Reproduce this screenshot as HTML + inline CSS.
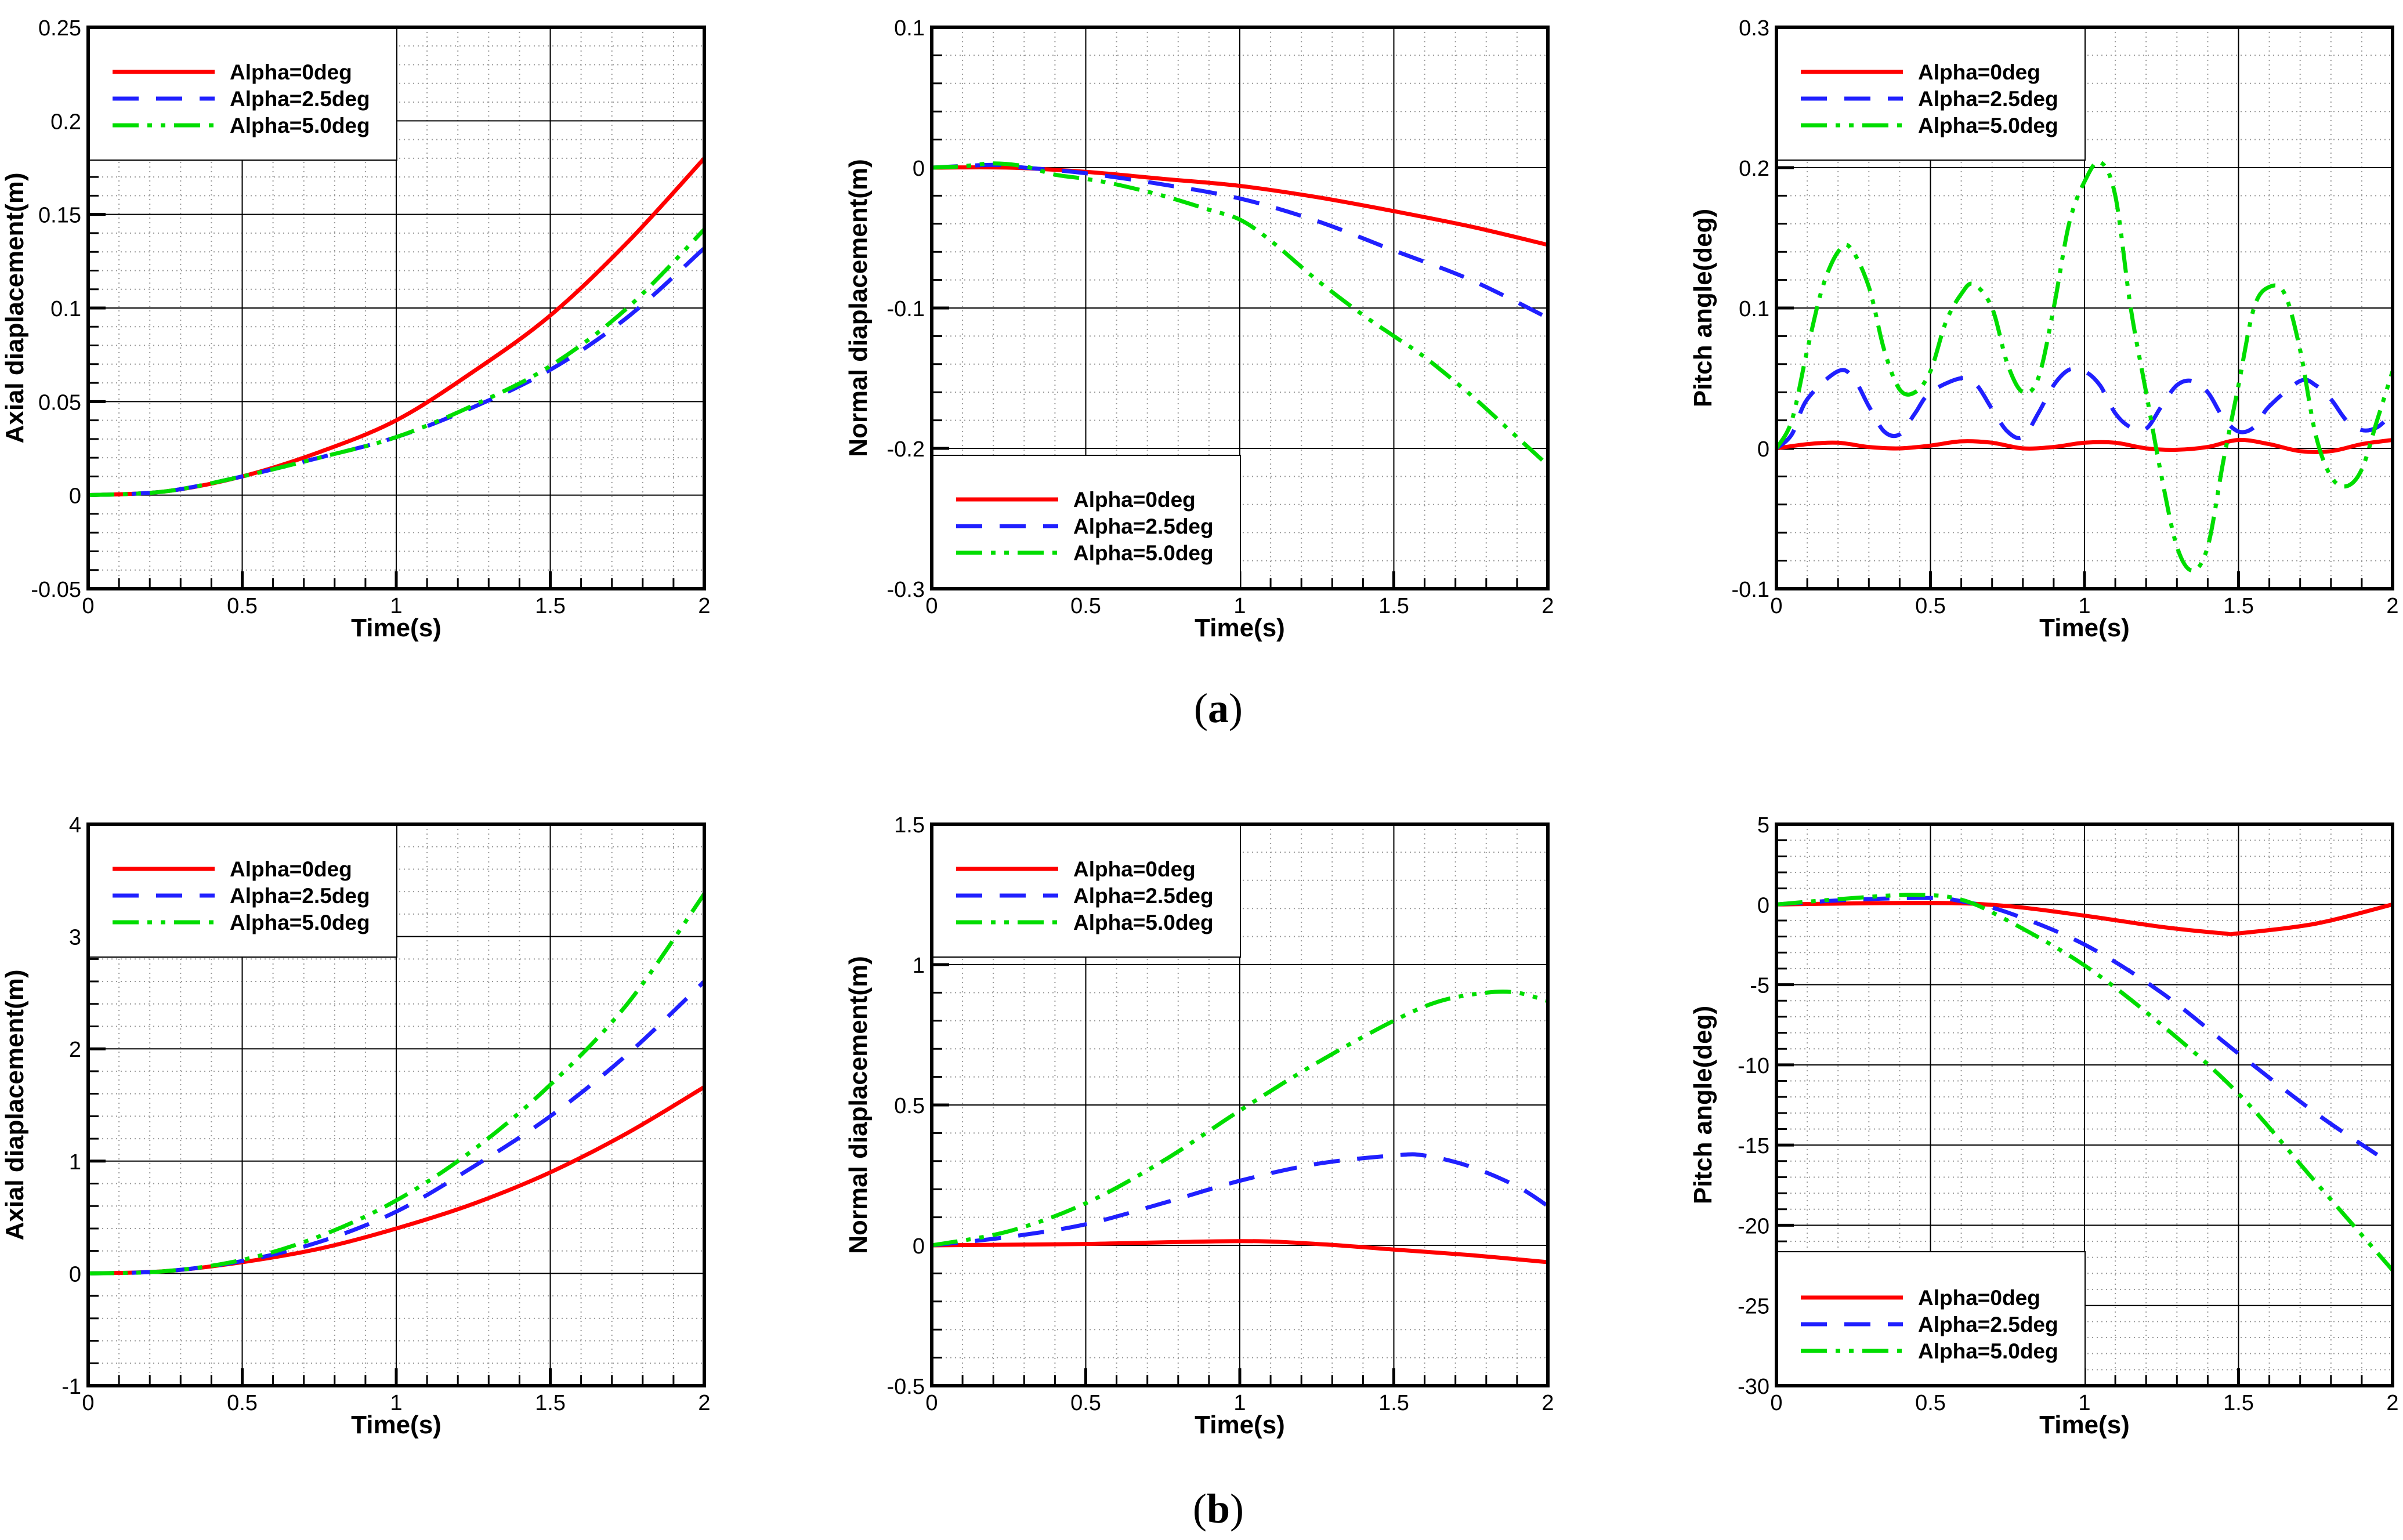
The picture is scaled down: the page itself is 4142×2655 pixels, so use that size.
<!DOCTYPE html>
<html><head><meta charset="utf-8"><style>
html,body{margin:0;padding:0;background:#fff;}
svg{display:block;}
</style></head><body>
<svg id="fig" width="4142" height="2655" viewBox="0 0 4142 2655" xmlns="http://www.w3.org/2000/svg" font-family="Liberation Sans, Arial, sans-serif">
<rect x="0" y="0" width="4142" height="2655" fill="#fff"/>
<text x="2100" y="1245" font-family="Liberation Serif, serif" font-size="72" text-anchor="middle">(<tspan font-weight="bold">a</tspan>)</text>
<text x="2100" y="2625" font-family="Liberation Serif, serif" font-size="72" text-anchor="middle">(<tspan font-weight="bold">b</tspan>)</text>
</svg>
<script>
// ---- data ----
const c1T=[0,0.25,0.5,0.75,1,1.25,1.5,1.75,2];
const c1Red=[0,0.002,0.01,0.023,0.04,0.066,0.096,0.135,0.18];
const c1Blue=[0,0.002,0.01,0.02,0.031,0.047,0.067,0.095,0.132];
const c1Green=[0,0.002,0.01,0.02,0.031,0.048,0.069,0.1,0.142];

const c2TRed=[0,0.25,0.5,0.75,1,1.25,1.5,1.75,2];
const c2Red=[0,0,-0.003,-0.008,-0.013,-0.021,-0.031,-0.042,-0.055];
const c2TBlue=[0,0.2,0.3,0.5,0.75,1,1.25,1.5,1.75,2];
const c2Blue=[0,0.002,0,-0.004,-0.012,-0.022,-0.038,-0.059,-0.08,-0.107];
const c2TGreen=[0,0.1,0.2,0.3,0.4,0.5,0.6,0.75,0.9,1,1.1,1.25,1.4,1.5,1.6,1.75,1.9,2];
const c2Green=[0,0.001,0.003,0.001,-0.005,-0.008,-0.012,-0.02,-0.03,-0.037,-0.052,-0.08,-0.105,-0.12,-0.135,-0.162,-0.192,-0.212];

const c3TRed=[0,0.1,0.2,0.3,0.4,0.5,0.6,0.7,0.8,0.9,1,1.1,1.2,1.3,1.4,1.5,1.6,1.7,1.8,1.9,2];
const c3Red=[0,0.003,0.004,0.001,0,0.002,0.005,0.004,0,0.001,0.004,0.004,0,-0.001,0.001,0.006,0.003,-0.002,-0.002,0.003,0.006];
const c3TBlue=[0,0.05,0.1,0.2,0.25,0.3,0.35,0.4,0.45,0.5,0.6,0.65,0.7,0.75,0.8,0.85,0.9,0.95,1,1.05,1.1,1.15,1.2,1.25,1.3,1.35,1.4,1.45,1.5,1.55,1.6,1.7,1.75,1.8,1.85,1.9,1.95,2];
const c3Blue=[0,0.01,0.035,0.055,0.05,0.03,0.012,0.01,0.025,0.04,0.05,0.045,0.028,0.012,0.008,0.025,0.045,0.056,0.055,0.045,0.025,0.015,0.014,0.03,0.045,0.048,0.04,0.022,0.012,0.015,0.03,0.048,0.045,0.035,0.02,0.013,0.015,0.025];
const c3TGreen=[0,0.05,0.1,0.15,0.2,0.24,0.3,0.35,0.4,0.45,0.5,0.55,0.6,0.64,0.7,0.75,0.8,0.85,0.9,0.95,1,1.05,1.1,1.15,1.2,1.25,1.3,1.35,1.4,1.45,1.5,1.55,1.6,1.65,1.7,1.75,1.8,1.85,1.9,1.95,2];
const c3Green=[0,0.02,0.07,0.115,0.14,0.143,0.115,0.07,0.042,0.04,0.055,0.09,0.11,0.117,0.1,0.06,0.04,0.05,0.1,0.16,0.19,0.204,0.18,0.1,0.04,-0.02,-0.07,-0.087,-0.07,-0.01,0.045,0.1,0.115,0.11,0.07,0.01,-0.02,-0.027,-0.015,0.02,0.055];

const c4T=[0,0.25,0.5,0.75,1,1.25,1.5,1.75,2];
const c4Red=[0,0.02,0.1,0.22,0.4,0.62,0.9,1.25,1.66];
const c4Blue=[0,0.02,0.11,0.28,0.55,0.95,1.4,1.95,2.6];
const c4Green=[0,0.02,0.12,0.33,0.65,1.1,1.68,2.4,3.38];

const c5TRed=[0,0.5,1,1.25,1.5,1.75,2];
const c5Red=[0,0.005,0.015,0.005,-0.015,-0.035,-0.06];
const c5TBlue=[0,0.25,0.5,0.75,1,1.25,1.5,1.6,1.75,1.9,2];
const c5Blue=[0,0.03,0.075,0.15,0.23,0.29,0.32,0.32,0.28,0.21,0.14];
const c5TGreen=[0,0.25,0.5,0.75,1,1.25,1.5,1.65,1.8,1.9,2];
const c5Green=[0,0.05,0.15,0.3,0.48,0.65,0.8,0.87,0.9,0.9,0.87];

const c6TRed=[0,0.5,0.75,1,1.25,1.45,1.5,1.75,2];
const c6Red=[0,0.1,-0.1,-0.7,-1.4,-1.8,-1.8,-1.2,0];
const c6TBlue=[0,0.25,0.5,0.6,0.75,1,1.25,1.5,1.75,1.95];
const c6Blue=[0,0.3,0.4,0.2,-0.5,-2.5,-5.5,-9.3,-13,-15.6];
const c6TGreen=[0,0.25,0.45,0.6,0.75,1,1.25,1.5,1.75,2];
const c6Green=[0,0.4,0.6,0.3,-1,-3.8,-7.5,-11.8,-17.3,-22.8];

const xTicks=["0","0.5","1","1.5","2"];
const legendLabels=["Alpha=0deg","Alpha=2.5deg","Alpha=5.0deg"];

const NS="http://www.w3.org/2000/svg";
const svg=document.getElementById('fig');
function mk(tag,attrs,parent){const e=document.createElementNS(NS,tag);for(const k in attrs)e.setAttribute(k,attrs[k]);(parent||svg).appendChild(e);return e;}

function smoothPath(P){
  let d="M"+P[0][0].toFixed(1)+","+P[0][1].toFixed(1);
  for(let i=0;i<P.length-1;i++){
    const p0=P[i-1]||P[i],p1=P[i],p2=P[i+1],p3=P[i+2]||P[i+1];
    const c1x=p1[0]+(p2[0]-p0[0])/6,c1y=p1[1]+(p2[1]-p0[1])/6;
    const c2x=p2[0]-(p3[0]-p1[0])/6,c2y=p2[1]-(p3[1]-p1[1])/6;
    d+=` C${c1x.toFixed(1)},${c1y.toFixed(1)} ${c2x.toFixed(1)},${c2y.toFixed(1)} ${p2[0].toFixed(1)},${p2[1].toFixed(1)}`;
  }
  return d;
}

const W=1062,H=968;
const styles=[{c:"#ff0000",d:""},{c:"#2020ff",d:"45 30"},{c:"#00dd00",d:"45 15 8 15 8 15"}];

function chart(id,L,T,ymin,ymax,ymaj,ymin_step,yLabels,title,series,leg){
  const g=mk('g',{});
  
  
  const xs=v=>L+v/2*W, ys=v=>T+H-(v-ymin)/(ymax-ymin)*H;
  for(let i=1;i<20;i++){if(i%5===0)continue;const x=xs(i*0.1);mk('line',{x1:x,y1:T,x2:x,y2:T+H,stroke:"#999","stroke-width":2,"stroke-dasharray":"2 6"},g);}
  const nm=Math.round((ymax-ymin)/ymin_step);
  for(let i=1;i<nm;i++){const v=ymin+i*ymin_step;if(Math.abs(Math.round((v-ymin)/ymaj)*ymaj-(v-ymin))<1e-9)continue;const y=ys(v);mk('line',{x1:L,y1:y,x2:L+W,y2:y,stroke:"#999","stroke-width":2,"stroke-dasharray":"2 6"},g);}
  for(let i=1;i<4;i++){const x=xs(i*0.5);mk('line',{x1:x,y1:T,x2:x,y2:T+H,stroke:"#000","stroke-width":2},g);}
  for(let i=1;i<yLabels.length-1;i++){const y=ys(+yLabels[i]);mk('line',{x1:L,y1:y,x2:L+W,y2:y,stroke:"#000","stroke-width":2},g);}
  for(let i=1;i<20;i++){const x=xs(i*0.1);const len=(i%5===0)?30:18;mk('line',{x1:x,y1:T+H,x2:x,y2:T+H-len,stroke:"#000","stroke-width":(i%5===0)?5:3},g);}
  for(let i=1;i<nm;i++){const v=ymin+i*ymin_step;const y=ys(v);mk('line',{x1:L,y1:y,x2:L+18,y2:y,stroke:"#000","stroke-width":3},g);}
  for(let i=1;i<yLabels.length-1;i++){const y=ys(+yLabels[i]);mk('line',{x1:L,y1:y,x2:L+30,y2:y,stroke:"#000","stroke-width":5},g);}
  const lb=mk('g',{},g);
  
  
  mk('rect',{x:leg.x,y:leg.y,width:leg.w,height:leg.h,fill:"#fff",stroke:"#000","stroke-width":2},lb);
  const names=['alpha-0','alpha-2-5','alpha-5-0'];
  series.forEach((s,k)=>{
    const P=s.t.map((t,i)=>[xs(t),ys(s.v[i])]);
    const p=mk('path',{d:smoothPath(P),fill:"none",stroke:styles[k].c,"stroke-width":7,"stroke-linejoin":"round"},g);
    if(styles[k].d)p.setAttribute('stroke-dasharray',styles[k].d);
    
    
  });
  legendLabels.forEach((lab,k)=>{
    const y=leg.y+leg.r0+k*46;
    const ln=mk('line',{x1:leg.x+42,y1:y,x2:leg.x+218,y2:y,stroke:styles[k].c,"stroke-width":7},lb);
    if(styles[k].d)ln.setAttribute('stroke-dasharray',styles[k].d);
    
    
    const t=mk('text',{x:leg.x+244,y:y+13,"font-size":37,"font-weight":"bold"},lb);
    t.textContent=lab;
    
    
  });
  mk('rect',{x:L,y:T,width:W,height:H,fill:"none",stroke:"#000","stroke-width":6},g);
  xTicks.forEach((s,i)=>{const t=mk('text',{x:xs(i*0.5),y:T+H+42,"font-size":38,"text-anchor":"middle"},g);t.textContent=s;
    });
  yLabels.forEach(s=>{const t=mk('text',{x:L-12,y:ys(+s)+14,"font-size":38,"text-anchor":"end"},g);t.textContent=s;
    });
  const xt=mk('text',{x:L+W/2,y:T+H+82,"font-size":44,"font-weight":"bold","text-anchor":"middle"},g);
  xt.textContent="Time(s)";
  
  
  const cx=L-112, cy=T+H/2;
  const yt=mk('text',{x:cx,y:cy,"font-size":44,"font-weight":"bold","text-anchor":"middle",transform:`rotate(-90 ${cx} ${cy})`},g);
  yt.textContent=title;
  
  
}
const LX=[152,1606,3062], TY=[47,1421];
const legTop=(x,y)=>({x:x,y:y,w:532,h:229,r0:77});
chart('chart-axial-a',LX[0],TY[0],-0.05,0.25,0.05,0.01,["-0.05","0","0.05","0.1","0.15","0.2","0.25"],"Axial diaplacement(m)",
  [{t:c1T,v:c1Red},{t:c1T,v:c1Blue},{t:c1T,v:c1Green}],legTop(LX[0],TY[0]));
chart('chart-normal-a',LX[1],TY[0],-0.3,0.1,0.1,0.02,["-0.3","-0.2","-0.1","0","0.1"],"Normal diaplacement(m)",
  [{t:c2TRed,v:c2Red},{t:c2TBlue,v:c2Blue},{t:c2TGreen,v:c2Green}],{x:LX[1],y:785,w:532,h:230,r0:76});
chart('chart-pitch-a',LX[2],TY[0],-0.1,0.3,0.1,0.02,["-0.1","0","0.1","0.2","0.3"],"Pitch angle(deg)",
  [{t:c3TRed,v:c3Red},{t:c3TBlue,v:c3Blue},{t:c3TGreen,v:c3Green}],legTop(LX[2],TY[0]));
chart('chart-axial-b',LX[0],TY[1],-1,4,1,0.2,["-1","0","1","2","3","4"],"Axial diaplacement(m)",
  [{t:c4T,v:c4Red},{t:c4T,v:c4Blue},{t:c4T,v:c4Green}],legTop(LX[0],TY[1]));
chart('chart-normal-b',LX[1],TY[1],-0.5,1.5,0.5,0.1,["-0.5","0","0.5","1","1.5"],"Normal diaplacement(m)",
  [{t:c5TRed,v:c5Red},{t:c5TBlue,v:c5Blue},{t:c5TGreen,v:c5Green}],legTop(LX[1],TY[1]));
chart('chart-pitch-b',LX[2],TY[1],-30,5,5,1,["-30","-25","-20","-15","-10","-5","0","5"],"Pitch angle(deg)",
  [{t:c6TRed,v:c6Red},{t:c6TBlue,v:c6Blue},{t:c6TGreen,v:c6Green}],{x:LX[2],y:2158,w:532,h:231,r0:79});
</script>
</body></html>
